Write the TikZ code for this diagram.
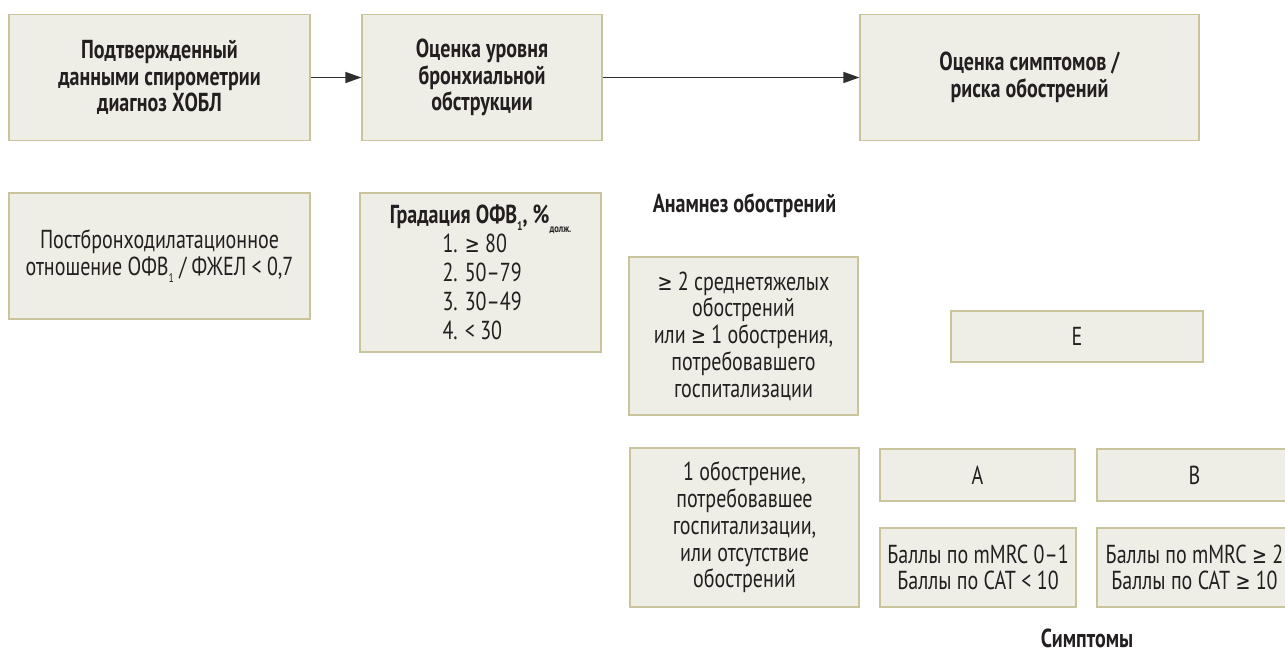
\documentclass[tikz,border=0pt]{standalone}
\usepackage{fontspec}
\setmainfont{PT Sans}[FakeStretch=0.77]
\newfontfamily\symfont{DejaVu Sans}[FakeStretch=0.78,Scale=0.88]
\usetikzlibrary{arrows.meta}

\definecolor{boxfill}{HTML}{EFEEE6}
\definecolor{boxline}{HTML}{C9C49C}
\definecolor{ink}{HTML}{231F20}
\definecolor{arrowink}{HTML}{2E2E2E}

% small symbols and indices
\newcommand{\gesym}{{\symfont ≥}}
\newcommand{\idx}[1]{\raisebox{-0.5ex}{\fontsize{12.5}{12.5}\selectfont #1}}
\newcommand{\tinyidx}[1]{\raisebox{-0.7ex}{\fontsize{11}{11}\selectfont #1}}

\tikzset{
  box/.style={draw=boxline, fill=boxfill, line width=1.2pt, align=center,
    inner sep=0pt, text=ink, font=\fontsize{26}{26.7}\selectfont},
  headbox/.style={box, font=\fontsize{26}{26.7}\selectfont\bfseries},
  caption/.style={text=ink, inner sep=0pt, font=\fontsize{26}{26.7}\selectfont\bfseries},
  flow/.style={draw=arrowink, line width=1.4pt, -{Triangle[length=16pt,width=11pt]}},
}

\begin{document}
\begin{tikzpicture}[x=1pt, y=-1pt]
\useasboundingbox (0,0) rectangle (1285,652);
\clip (0,0) rectangle (1285,652);

% top row: the three stages
\node[headbox, minimum width=301pt, minimum height=126pt] (diag) at (159.5,77.5)
  {Подтвержденный\\данными спирометрии\\диагноз ХОБЛ};
\node[headbox, minimum width=240pt, minimum height=126pt] (obstr) at (482,77.5)
  {Оценка уровня\\бронхиальной\\обструкции};
\node[headbox, minimum width=339pt, minimum height=126pt] (symp) at (1029.5,77.5)
  {Оценка симптомов /\\риска обострений};

\draw[flow] (diag) -- (obstr);
\draw[flow] (obstr) -- (symp);

% second row: criteria
\node[box, minimum width=301pt, minimum height=126pt] (ratio) at (159.5,256)
  {Постбронходилатационное\\отношение ОФВ\idx{1} / ФЖЕЛ < 0,7};
\node[box, minimum width=241pt, minimum height=159pt,
      font=\fontsize{26}{29}\selectfont] (grade) at (480.5,272.5)
  {{\bfseries Градация ОФВ\idx{1}, \%\tinyidx{долж.}}\\
   \makebox[76pt][l]{1. \gesym{} 80}\\
   \makebox[76pt][l]{2. 50–79}\\
   \makebox[76pt][l]{3. 30–49}\\
   \makebox[76pt][l]{4. < 30}};

% exacerbation history
\node[caption] (hist) at (744.5,206) {Анамнез обострений};
\node[box, minimum width=229pt, minimum height=158pt] (high) at (743.5,336)
  {\gesym{} 2 среднетяжелых\\обострений\\или \gesym{} 1 обострения,\\потребовавшего\\госпитализации};
\node[box, minimum width=229pt, minimum height=159pt] (low) at (744.5,527.5)
  {1 обострение,\\потребовавшее\\госпитализации,\\или отсутствие\\обострений};

% groups
\node[box, minimum width=252pt, minimum height=51pt] (grE) at (1077,336.5) {E};
\node[box, minimum width=195pt, minimum height=52pt] (grA) at (977.5,475) {A};
\node[box, minimum width=195pt, minimum height=52pt] (grB) at (1194.5,475) {B};

% symptom scores
\node[box, minimum width=196pt, minimum height=79pt] (scA) at (978,567.5)
  {Баллы по mMRC 0–1\\Баллы по CAT < 10};
\node[box, minimum width=195pt, minimum height=79pt] (scB) at (1194.5,567.5)
  {Баллы по mMRC \gesym{} 2\\Баллы по CAT \gesym{} 10};

\node[caption, anchor=base] (symlab) at (1087,647) {Симптомы};
\end{tikzpicture}
\end{document}
